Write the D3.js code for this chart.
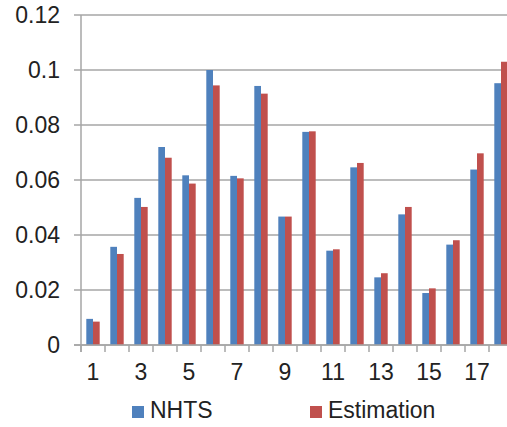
<!DOCTYPE html>
<html>
<head>
<meta charset="utf-8">
<script src="https://cdn.jsdelivr.net/npm/d3@7"></script>
<style>
  html, body { margin: 0; padding: 0; background: #fff; }
  svg { display: block; }
  text { font-family: "Liberation Sans", Arial, sans-serif; fill: #222; }
</style>
</head>
<body>
<script>
const categories = ["1","2","3","4","5","6","7","8","9","10","11","12","13","14","15","16","17","18"];
const seriesNames = ["NHTS", "Estimation"];
const nhts = [0.0095, 0.0357, 0.0535, 0.0720, 0.0617, 0.1000, 0.0615, 0.0942, 0.0467, 0.0775, 0.0343, 0.0646, 0.0246, 0.0475, 0.0189, 0.0365, 0.0638, 0.0952];
const estimation = [0.0085, 0.0331, 0.0502, 0.0681, 0.0587, 0.0944, 0.0606, 0.0914, 0.0467, 0.0777, 0.0348, 0.0662, 0.0261, 0.0502, 0.0206, 0.0381, 0.0697, 0.1030];
const yTicks = [0, 0.02, 0.04, 0.06, 0.08, 0.1, 0.12];
const xTickLabels = ["1","3","5","7","9","11","13","15","17"];
const colors = ["#4F81BD", "#C0504D"];

const W = 507, H = 427;
const mLeft = 81, mTop = 15, plotW = 24 * categories.length, plotH = 330;

const svg = d3.select("body").append("svg").attr("width", W).attr("height", H);
const g = svg.append("g").attr("transform", `translate(${mLeft},${mTop})`);

const x = d3.scaleBand().domain(categories).range([0, plotW]).paddingInner(0).paddingOuter(0);
const xInner = d3.scaleBand().domain(seriesNames).range([(x.bandwidth() - 13.4) / 2, (x.bandwidth() + 13.4) / 2]);
const y = d3.scaleLinear().domain([0, 0.12]).range([plotH, 0]);

// gridlines
g.selectAll("line.grid").data(yTicks).enter().append("line")
  .attr("class", "grid")
  .attr("x1", -7).attr("x2", plotW)
  .attr("y1", d => y(d)).attr("y2", d => y(d))
  .attr("stroke", "#A6A6A6").attr("stroke-width", 1.5);

// y labels
g.selectAll("text.ylab").data(yTicks).enter().append("text")
  .attr("class", "ylab")
  .attr("x", -21).attr("y", d => y(d))
  .attr("dy", "0.35em")
  .attr("text-anchor", "end")
  .attr("font-size", 23)
  .text(d => d === 0 ? "0" : String(+d.toFixed(2)));

// bars
const data = [nhts, estimation];
data.forEach((vals, si) => {
  g.selectAll(`rect.s${si}`).data(vals).enter().append("rect")
    .attr("class", `s${si}`)
    .attr("x", (d, i) => x(categories[i]) + xInner(seriesNames[si]))
    .attr("width", xInner.bandwidth())
    .attr("y", d => y(d))
    .attr("height", d => plotH - y(d))
    .attr("fill", colors[si]);
});

// x axis line
g.append("line").attr("x1", -7).attr("x2", plotW).attr("y1", plotH).attr("y2", plotH)
  .attr("stroke", "#A6A6A6").attr("stroke-width", 1.5);
// y axis line
g.append("line").attr("x1", 0).attr("x2", 0).attr("y1", 0).attr("y2", plotH + 7)
  .attr("stroke", "#A6A6A6").attr("stroke-width", 1.5);
// x ticks between categories
const tickPos = d3.range(categories.length + 1).map(i => i * x.step());
g.selectAll("line.xt").data(tickPos).enter().append("line")
  .attr("x1", d => d).attr("x2", d => d)
  .attr("y1", plotH).attr("y2", plotH + 7)
  .attr("stroke", "#A6A6A6").attr("stroke-width", 1.5);

// x labels
g.selectAll("text.xlab").data(xTickLabels).enter().append("text")
  .attr("x", d => x(d) + x.bandwidth() / 2)
  .attr("y", plotH + 35)
  .attr("text-anchor", "middle")
  .attr("font-size", 23)
  .text(d => d);

// legend
const legendX = [132, 310];
const lg = svg.selectAll("g.leg").data(seriesNames).enter().append("g")
  .attr("transform", (d, i) => `translate(${legendX[i]},406)`);
lg.append("rect").attr("width", 12).attr("height", 12).attr("fill", (d, i) => colors[i]);
lg.append("text").attr("x", 18).attr("y", 11.5).attr("font-size", 23).text(d => d);
</script>
</body>
</html>
